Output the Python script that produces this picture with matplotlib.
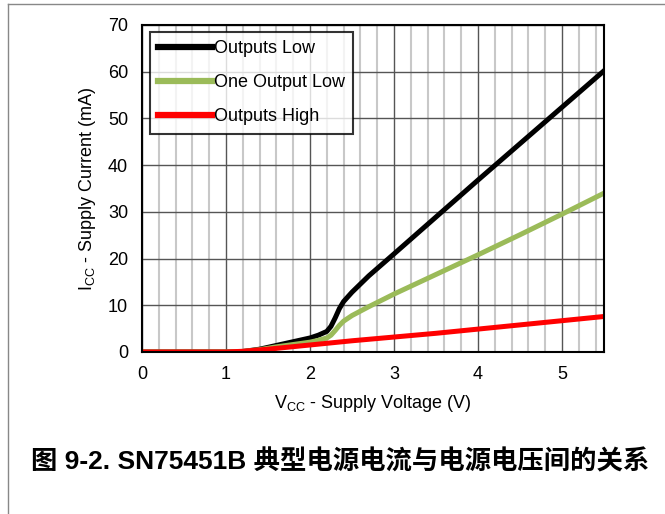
import matplotlib
matplotlib.use('Agg')
import matplotlib.pyplot as plt
from matplotlib.lines import Line2D

# supply voltage (V) vs supply current (mA)
low_v = [0, 0.5, 1.0, 1.2, 1.4, 1.6, 1.8, 2.0, 2.1, 2.2, 2.25, 2.3, 2.35, 2.4,
         2.5, 2.7, 3.0, 3.5, 4.0, 4.5, 5.0, 5.5]
low_i = [0, 0, 0, 0.1, 0.6, 1.4, 2.2, 3.0, 3.6, 4.4, 5.5, 7.3, 9.3, 10.8,
         12.8, 16.3, 21.0, 28.9, 36.8, 44.6, 52.4, 60.2]

one_v = low_v
one_i = [0, 0, 0, 0.1, 0.5, 1.1, 1.6, 2.1, 2.5, 3.0, 3.6, 4.6, 5.7, 6.6,
         7.8, 9.7, 12.4, 16.6, 20.8, 25.1, 29.5, 34.0]

high_v = [0, 0.5, 1.0, 1.2, 1.5, 2.0, 2.5, 3.0, 3.5, 4.0, 4.5, 5.0, 5.5]
high_i = [0, 0, 0, 0.15, 0.6, 1.5, 2.4, 3.2, 4.0, 4.9, 5.8, 6.7, 7.6]

labels = ['Outputs Low', 'One Output Low', 'Outputs High']
colors = ['#000000', '#9bbb59', '#ff0000']

title = '图 9-2. SN75451B 典型电源电流与电源电压间的关系'

plt.rcParams['font.family'] = ['Liberation Sans', 'Noto Sans CJK SC', 'DejaVu Sans']

fig = plt.figure(figsize=(6.65, 5.14), dpi=100)
ax = fig.add_axes([0.2135, 0.3152, 0.6948, 0.6362])

ax.plot(low_v, low_i, color=colors[0], lw=3.6, label=labels[0])
ax.plot(one_v, one_i, color=colors[1], lw=3.6, label=labels[1])
ax.plot(high_v, high_i, color=colors[2], lw=3.6, label=labels[2])

ax.set_xlim(0, 5.5)
ax.set_ylim(0, 70)
ax.set_xticks([0, 1, 2, 3, 4, 5])
ax.set_xticks([i * 0.2 for i in range(28)], minor=True)
ax.set_yticks(range(0, 71, 10))
ax.grid(which='minor', axis='x', color='#c8c8c8', lw=1.5)
ax.grid(which='major', axis='both', color='#555555', lw=1.0)
ax.set_axisbelow(True)
ax.tick_params(which='both', length=0, labelsize=13, pad=10)
for s in ax.spines.values():
    s.set_linewidth(1.5)
    s.set_color('black')

ax.set_xlabel(r'$\mathregular{V_{CC}}$ - Supply Voltage (V)', fontsize=13, labelpad=7)
ax.set_ylabel(r'$\mathregular{I_{CC}}$ - Supply Current (mA)', fontsize=13, labelpad=7)

leg = ax.legend(loc='upper left', bbox_to_anchor=(0.005, 0.995), fontsize=13,
                frameon=True, fancybox=False, borderaxespad=0.3,
                handlelength=3.0, handletextpad=0.1, labelspacing=0.95,
                borderpad=0.45)
leg.get_frame().set_edgecolor('black')
leg.get_frame().set_linewidth(1.5)
for h in leg.get_lines():
    h.set_linewidth(4.5)

fig.text(0.511, 0.101, title, ha='center', va='center', fontsize=19,
         fontweight='bold')

# page border lines
fig.add_artist(Line2D([0.012, 0.012], [0, 0.992], color='#888888', lw=1))
fig.add_artist(Line2D([0.012, 1], [0.992, 0.992], color='#888888', lw=1))

fig.savefig('out.png', dpi=100)
